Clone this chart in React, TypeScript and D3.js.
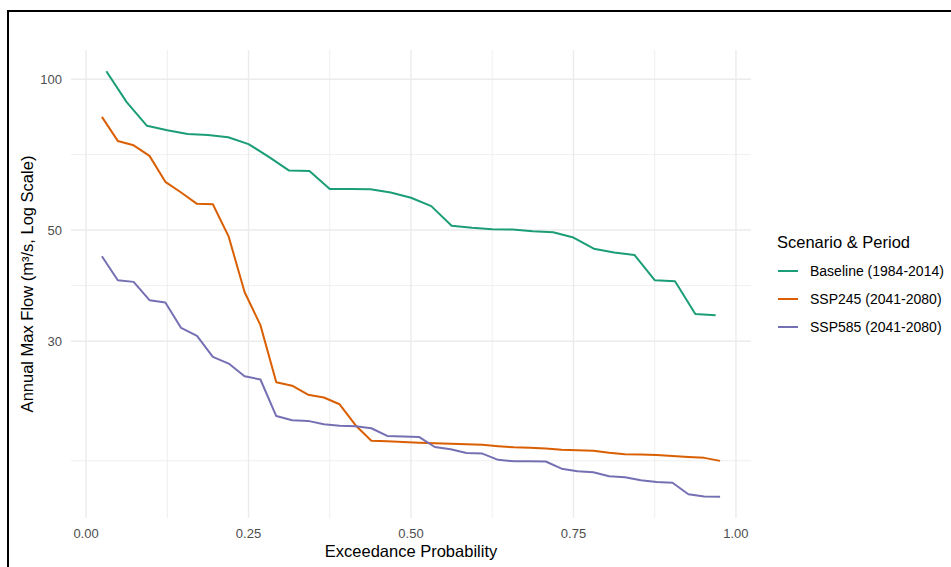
import React from "react";
import * as d3 from "d3";

// ---- Data ----
const baselineProb = [0.03125, 0.0625, 0.09375, 0.125, 0.15625, 0.1875, 0.21875, 0.25, 0.28125, 0.3125, 0.34375, 0.375, 0.40625, 0.4375, 0.46875, 0.5, 0.53125, 0.5625, 0.59375, 0.625, 0.65625, 0.6875, 0.71875, 0.75, 0.78125, 0.8125, 0.84375, 0.875, 0.90625, 0.9375, 0.96875];
const baselineFlow = [103.7, 90.0, 80.7, 79.1, 77.7, 77.4, 76.6, 74.2, 70.0, 65.7, 65.6, 60.4, 60.4, 60.3, 59.4, 58.0, 55.8, 51.0, 50.5, 50.2, 50.1, 49.7, 49.5, 48.3, 45.9, 45.1, 44.6, 39.7, 39.5, 34.0, 33.8];

const futureProb = [0.0244, 0.0488, 0.0732, 0.0976, 0.1220, 0.1463, 0.1707, 0.1951, 0.2195, 0.2439, 0.2683, 0.2927, 0.3171, 0.3415, 0.3659, 0.3902, 0.4146, 0.4390, 0.4634, 0.4878, 0.5122, 0.5366, 0.5610, 0.5854, 0.6098, 0.6341, 0.6585, 0.6829, 0.7073, 0.7317, 0.7561, 0.7805, 0.8049, 0.8293, 0.8537, 0.8780, 0.9024, 0.9268, 0.9512, 0.9756];
const ssp245Flow = [84.1, 75.3, 73.8, 70.3, 62.4, 59.4, 56.4, 56.3, 48.5, 37.6, 32.3, 24.85, 24.45, 23.46, 23.16, 22.45, 20.39, 18.98, 18.94, 18.88, 18.81, 18.77, 18.72, 18.68, 18.65, 18.52, 18.42, 18.38, 18.33, 18.21, 18.17, 18.14, 17.96, 17.85, 17.82, 17.79, 17.7, 17.63, 17.55, 17.31];
const ssp585Flow = [44.33, 39.7, 39.4, 36.22, 35.84, 31.88, 30.73, 27.91, 27.07, 25.54, 25.16, 21.27, 20.86, 20.8, 20.48, 20.34, 20.3, 20.11, 19.41, 19.36, 19.32, 18.45, 18.26, 17.95, 17.9, 17.39, 17.28, 17.28, 17.26, 16.7, 16.51, 16.43, 16.13, 16.06, 15.84, 15.7, 15.65, 14.85, 14.7, 14.68];

const seriesNames = ["Baseline (1984-2014)", "SSP245 (2041-2080)", "SSP585 (2041-2080)"];
const seriesColors = ["#1B9E77", "#D95F02", "#7570B3"];

const xBreaks = [0, 0.25, 0.5, 0.75, 1.0];
const xLabels = ["0.00", "0.25", "0.50", "0.75", "1.00"];
const yBreaks = [10, 30, 50, 100];

const W = 951;
const H = 567;
const FONT = "'Liberation Sans', Arial, Helvetica, sans-serif";

export default function App() {
  const series = [
    { name: seriesNames[0], color: seriesColors[0], x: baselineProb, y: baselineFlow },
    { name: seriesNames[1], color: seriesColors[1], x: futureProb, y: ssp245Flow },
    { name: seriesNames[2], color: seriesColors[2], x: futureProb, y: ssp585Flow },
  ];

  const allX = [...baselineProb, ...futureProb];
  const allY = [...baselineFlow, ...ssp245Flow, ...ssp585Flow];
  const [x0, x1] = d3.extent(allX) as [number, number];
  const [ly0, ly1] = (d3.extent(allY) as [number, number]).map(Math.log10);
  const xe = (x1 - x0) * 0.05;
  const ye = (ly1 - ly0) * 0.05;

  const panel = { left: 71, right: 751, top: 50, bottom: 518 };

  const x = d3.scaleLinear().domain([x0 - xe, x1 + xe]).range([panel.left, panel.right]);
  const y = d3.scaleLog().domain([Math.pow(10, ly0 - ye), Math.pow(10, ly1 + ye)]).range([panel.bottom, panel.top]);

  const [yd0, yd1] = y.domain();
  const [xd0, xd1] = x.domain();
  const yMajor = yBreaks.filter((v) => v >= yd0 && v <= yd1);
  const yMinor = d3.pairs(yBreaks).map(([a, b]) => Math.sqrt(a * b)).filter((v) => v >= yd0 && v <= yd1);
  const xMinor = d3.pairs(xBreaks).map(([a, b]) => (a + b) / 2).filter((v) => v >= xd0 && v <= xd1);

  const line = d3
    .line<[number, number]>()
    .x((d) => x(d[0]))
    .y((d) => y(d[1]));

  const grid = "#EBEBEB";

  return (
    <div style={{ position: "absolute", left: 0, top: 0 }}>
      <svg width={W} height={H} style={{ display: "block", fontFamily: FONT }}>
        <rect x={0} y={0} width={W} height={H} fill="#fff" />
        {/* minor grid */}
        {yMinor.map((v, i) => (
          <line key={"ym" + i} x1={panel.left} x2={panel.right} y1={y(v)} y2={y(v)} stroke={grid} strokeWidth={0.8} />
        ))}
        {xMinor.map((v, i) => (
          <line key={"xm" + i} x1={x(v)} x2={x(v)} y1={panel.top} y2={panel.bottom} stroke={grid} strokeWidth={0.8} />
        ))}
        {/* major grid */}
        {yMajor.map((v, i) => (
          <line key={"yM" + i} x1={panel.left} x2={panel.right} y1={y(v)} y2={y(v)} stroke={grid} strokeWidth={1.4} />
        ))}
        {xBreaks.map((v, i) => (
          <line key={"xM" + i} x1={x(v)} x2={x(v)} y1={panel.top} y2={panel.bottom} stroke={grid} strokeWidth={1.4} />
        ))}

        {/* lines */}
        {series.map((s, i) => (
          <path
            key={"s" + i}
            d={line(s.x.map((xv, j) => [xv, s.y[j]] as [number, number])) || ""}
            fill="none"
            stroke={s.color}
            strokeWidth={2}
            strokeLinejoin="round"
          />
        ))}

        {/* y tick labels */}
        {yMajor.map((v, i) => (
          <text key={"yl" + i} x={62} y={y(v)} dy="0.35em" textAnchor="end" fontSize={13} fill="#4D4D4D">
            {String(v)}
          </text>
        ))}
        {/* x tick labels */}
        {xBreaks.map((v, i) => (
          <text key={"xl" + i} x={x(v)} y={538} textAnchor="middle" fontSize={13} fill="#4D4D4D">
            {xLabels[i]}
          </text>
        ))}

        {/* axis titles */}
        <text x={x(0.5)} y={557} textAnchor="middle" fontSize={16.5} fill="#000">
          Exceedance Probability
        </text>
        <text
          transform={`translate(33, ${(panel.top + panel.bottom) / 2}) rotate(-90)`}
          textAnchor="middle"
          fontSize={16.5}
          fill="#000"
        >
          Annual Max Flow (m³/s, Log Scale)
        </text>

        {/* legend */}
        <text x={777} y={248} fontSize={16.5} fill="#000">
          Scenario &amp; Period
        </text>
        {series.map((s, i) => (
          <g key={"lg" + i} transform={`translate(0, ${271 + i * 28})`}>
            <line x1={778} x2={798} y1={0} y2={0} stroke={s.color} strokeWidth={2} />
            <text x={810} y={0} dy="0.35em" fontSize={14} fill="#000">
              {s.name}
            </text>
          </g>
        ))}

        {/* outer frame */}
        <path d={`M8,${H} L8,11 L${W},11`} fill="none" stroke="#000" strokeWidth={2} />
      </svg>
    </div>
  );
}
